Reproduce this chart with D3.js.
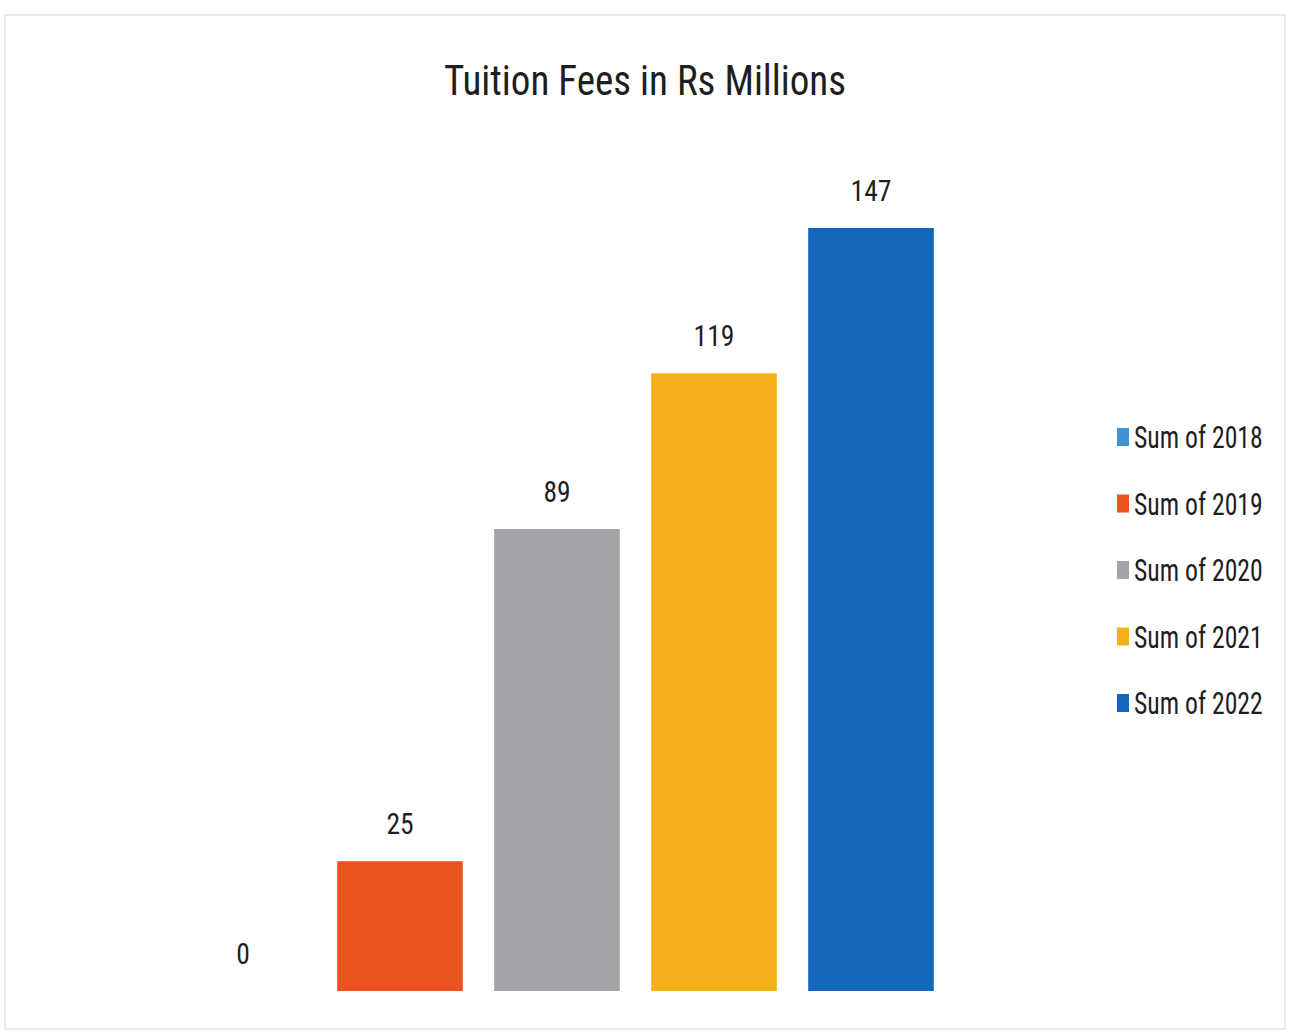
<!DOCTYPE html>
<html>
<head>
<meta charset="utf-8">
<script src="https://cdn.jsdelivr.net/npm/d3@7"></script>
<style>
  body { margin: 0; background: #fff; }
  text { font-family: "Liberation Sans Narrow", "Roboto Condensed", "Open Sans", sans-serif; fill: #1e1e1e; }
</style>
</head>
<body>
<div id="chart"></div>
<script>
// Chart data
const categories = ["Sum of 2018", "Sum of 2019", "Sum of 2020", "Sum of 2021", "Sum of 2022"];
const values = [0, 25, 89, 119, 147];
const colors = ["#3E93D6", "#E9541F", "#A4A3A8", "#F4AF1B", "#1467BD"];
const title = "Tuition Fees in Rs Millions";

const W = 1289, H = 1032;

const svg = d3.select("#chart").append("svg")
    .attr("width", W)
    .attr("height", H);

// light frame like the scanned chart area
svg.append("rect")
    .attr("x", 5).attr("y", 15)
    .attr("width", 1280).attr("height", 1014)
    .attr("fill", "none")
    .attr("stroke", "#e2e2e2")
    .attr("stroke-width", 1.5);

// Scales
const x = d3.scaleBand()
    .domain(categories)
    .range([164.5, 949.5])
    .paddingInner(0.2)
    .paddingOuter(0.1);

const y = d3.scaleLinear()
    .domain([0, 147])
    .range([991, 228]);

// Title (narrowed a bit to match the condensed look)
svg.append("text")
    .attr("transform", "translate(645,95) scale(0.93,1)")
    .attr("text-anchor", "middle")
    .style("font-size", "42px")
    .text(title);

// Bars
svg.selectAll(".bar")
    .data(values)
    .enter().append("rect")
    .attr("class", "bar")
    .attr("x", (d, i) => x(categories[i]))
    .attr("y", d => y(d))
    .attr("width", x.bandwidth())
    .attr("height", d => y(0) - y(d))
    .attr("fill", (d, i) => colors[i]);

// Data labels
svg.selectAll(".label")
    .data(values)
    .enter().append("text")
    .attr("class", "label")
    .attr("transform", (d, i) => "translate(" + (x(categories[i]) + x.bandwidth() / 2) + "," + (y(d) - 27) + ") scale(0.92,1)")
    .attr("text-anchor", "middle")
    .style("font-size", "30px")
    .text(d => d);

// Legend
const legend = svg.selectAll(".legend")
    .data(categories)
    .enter().append("g")
    .attr("class", "legend")
    .attr("transform", (d, i) => "translate(1117," + (437 + i * 66.5) + ")");

legend.append("rect")
    .attr("x", 0).attr("y", -9)
    .attr("width", 12).attr("height", 18)
    .attr("fill", (d, i) => colors[i]);

legend.append("text")
    .attr("transform", "translate(17,11) scale(0.83,1)")
    .style("font-size", "31px")
    .text(d => d);
</script>
</body>
</html>
